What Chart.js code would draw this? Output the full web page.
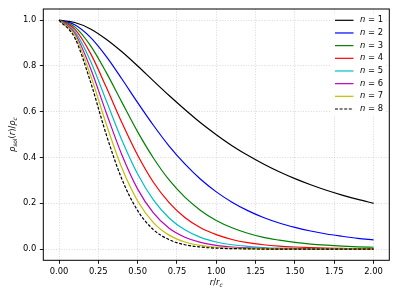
<!DOCTYPE html>
<html>
<head>
<meta charset="utf-8">
<script src="https://cdn.jsdelivr.net/npm/chart.js@4.4.1/dist/chart.umd.min.js"></script>
<style>
  html, body { margin: 0; padding: 0; background: #fff; }
  #chartCanvas { display: block; }
</style>
</head>
<body>
<canvas id="chartCanvas" width="399" height="299"></canvas>
<script>
// r / r_c sample positions
const rValues = [0.0, 0.1, 0.2, 0.3, 0.4, 0.5, 0.6, 0.7, 0.8, 0.9, 1.0,
                 1.1, 1.2, 1.3, 1.4, 1.5, 1.6, 1.7, 1.8, 1.9, 2.0];

// rho_sol(r)/rho_c, one array per n
const n1 = [1.000, 0.990, 0.962, 0.917, 0.862, 0.800, 0.735, 0.671, 0.610, 0.552, 0.500,
            0.452, 0.410, 0.372, 0.338, 0.308, 0.281, 0.257, 0.236, 0.217, 0.200];
const n2 = [1.000, 0.980, 0.925, 0.842, 0.743, 0.640, 0.541, 0.450, 0.372, 0.305, 0.250,
            0.205, 0.168, 0.138, 0.114, 0.095, 0.079, 0.066, 0.056, 0.047, 0.040];
const n3 = [1.000, 0.971, 0.889, 0.772, 0.641, 0.512, 0.398, 0.302, 0.227, 0.169, 0.125,
            0.093, 0.069, 0.051, 0.039, 0.029, 0.022, 0.017, 0.013, 0.010, 0.008];
const n4 = [1.000, 0.961, 0.855, 0.708, 0.552, 0.410, 0.292, 0.203, 0.138, 0.093, 0.063,
            0.042, 0.028, 0.019, 0.013, 0.009, 0.006, 0.004, 0.003, 0.002, 0.002];
const n5 = [1.000, 0.951, 0.822, 0.649, 0.476, 0.328, 0.215, 0.136, 0.084, 0.051, 0.031,
            0.019, 0.012, 0.007, 0.004, 0.003, 0.002, 0.001, 0.001, 0.000, 0.000];
const n6 = [1.000, 0.943, 0.790, 0.596, 0.411, 0.262, 0.158, 0.091, 0.052, 0.029, 0.016,
            0.009, 0.005, 0.003, 0.001, 0.001, 0.000, 0.000, 0.000, 0.000, 0.000];
const n7 = [1.000, 0.934, 0.760, 0.547, 0.354, 0.210, 0.116, 0.061, 0.031, 0.016, 0.008,
            0.004, 0.002, 0.001, 0.000, 0.000, 0.000, 0.000, 0.000, 0.000, 0.000];
const n8 = [1.000, 0.923, 0.731, 0.501, 0.305, 0.168, 0.085, 0.041, 0.019, 0.009, 0.004,
            0.002, 0.001, 0.000, 0.000, 0.000, 0.000, 0.000, 0.000, 0.000, 0.000];

const seriesValues = [n1, n2, n3, n4, n5, n6, n7, n8];
const seriesLabels = ['1', '2', '3', '4', '5', '6', '7', '8'];
const seriesColors = ['#000000', '#0000ff', '#008000', '#ff0000', '#00bfbf', '#bf00bf', '#bfbf00', '#000000'];

// tick labels
const xTicks = [0.0, 0.25, 0.5, 0.75, 1.0, 1.25, 1.5, 1.75, 2.0];
const yTicks = [0.0, 0.2, 0.4, 0.6, 0.8, 1.0];

const FONT = 'DejaVu Sans';
const TICK_SIZE = 8.4;

// draw a run of text pieces (italic / subscript) centered on 0,0
function drawMath(ctx, pieces, size) {
    const parts = pieces.map(p => {
        const s = p.sub ? size * 0.7 : size;
        const font = (p.it ? 'italic ' : '') + s + 'px "' + FONT + '"';
        ctx.font = font;
        return { t: p.t, font, w: ctx.measureText(p.t).width, dy: p.sub ? size * 0.28 : 0 };
    });
    const total = parts.reduce((a, p) => a + p.w, 0);
    let x = -total / 2;
    ctx.textBaseline = 'middle';
    ctx.textAlign = 'left';
    parts.forEach(p => {
        ctx.font = p.font;
        ctx.fillText(p.t, x, p.dy);
        x += p.w;
    });
}

const extras = {
    id: 'extras',
    afterDatasetsDraw(chart) {
        const ctx = chart.ctx;
        ctx.save();
        // legend box (upper right, inside the axes)
        ctx.fillStyle = 'rgba(255,255,255,0.9)';
        ctx.fillRect(331, 13, 55, 103);
        const rowY0 = 20.3, rowStep = 12.67;
        seriesLabels.forEach((lab, i) => {
            const y = rowY0 + i * rowStep;
            ctx.beginPath();
            ctx.strokeStyle = seriesColors[i];
            ctx.lineWidth = 1.2;
            ctx.setLineDash(i === 7 ? [3, 1.6] : []);
            ctx.moveTo(335, y);
            ctx.lineTo(353.5, y);
            ctx.stroke();
            ctx.setLineDash([]);
            ctx.fillStyle = '#000';
            ctx.textBaseline = 'middle';
            ctx.textAlign = 'left';
            ctx.font = 'italic ' + TICK_SIZE + 'px "' + FONT + '"';
            ctx.fillText('n', 360, y);
            const w = ctx.measureText('n').width;
            ctx.font = TICK_SIZE + 'px "' + FONT + '"';
            ctx.fillText(' = ' + lab, 360 + w, y);
        });
        ctx.restore();
    },
    afterDraw(chart) {
        const ctx = chart.ctx;
        const a = chart.chartArea;
        ctx.save();
        // axes frame
        ctx.strokeStyle = '#000';
        ctx.lineWidth = 1;
        ctx.strokeRect(a.left, a.top, a.right - a.left, a.bottom - a.top);
        ctx.fillStyle = '#000';
        // x title
        ctx.save();
        ctx.translate((a.left + a.right) / 2, 283);
        drawMath(ctx, [{ t: 'r', it: true }, { t: '/' }, { t: 'r', it: true }, { t: 'c', it: true, sub: true }], TICK_SIZE);
        ctx.restore();
        // y title
        ctx.save();
        ctx.translate(13.3, (a.top + a.bottom) / 2);
        ctx.rotate(-Math.PI / 2);
        drawMath(ctx, [
            { t: 'ρ', it: true }, { t: 'sol', it: true, sub: true },
            { t: '(' }, { t: 'r', it: true }, { t: ')/' },
            { t: 'ρ', it: true }, { t: 'c', it: true, sub: true }
        ], TICK_SIZE);
        ctx.restore();
        ctx.restore();
    }
};

const gridCommon = {
    color: 'rgba(190,190,190,0.75)',
    lineWidth: 0.8,
    drawTicks: true,
    tickLength: 3.5,
    tickColor: '#000',
    tickWidth: 0.9,
    tickBorderDash: []
};

const chart = new Chart(document.getElementById('chartCanvas'), {
    type: 'line',
    data: {
        datasets: seriesValues.map((vals, i) => ({
            label: 'n = ' + seriesLabels[i],
            data: rValues.map((r, j) => ({ x: r, y: vals[j] })),
            borderColor: seriesColors[i],
            borderWidth: 1.2,
            borderDash: i === 7 ? [3, 1.6] : [],
            pointRadius: 0,
            fill: false,
            cubicInterpolationMode: 'monotone',
            order: 8 - i
        }))
    },
    options: {
        responsive: false,
        animation: false,
        devicePixelRatio: 1,
        layout: { padding: { top: 9, right: 9.7, left: 0, bottom: 0 } },
        plugins: { legend: { display: false }, tooltip: { enabled: false } },
        scales: {
            x: {
                type: 'linear',
                min: -0.1,
                max: 2.1,
                afterBuildTicks: s => { s.ticks = xTicks.map(v => ({ value: v })); },
                afterFit: s => { s.height = 38.7; },
                ticks: {
                    callback: v => Number(v).toFixed(2),
                    color: '#000',
                    font: { family: FONT, size: TICK_SIZE },
                    padding: 2.5,
                    maxRotation: 0,
                    autoSkip: false
                },
                grid: gridCommon,
                border: { display: false, dash: [1, 1.6] }
            },
            y: {
                type: 'linear',
                min: -0.049,
                max: 1.049,
                afterBuildTicks: s => { s.ticks = yTicks.map(v => ({ value: v })); },
                afterFit: s => { s.width = 43.3; },
                ticks: {
                    callback: v => Number(v).toFixed(1),
                    color: '#000',
                    font: { family: FONT, size: TICK_SIZE },
                    padding: 3.5,
                    autoSkip: false
                },
                grid: gridCommon,
                border: { display: false, dash: [1, 1.6] }
            }
        }
    },
    plugins: [extras]
});
</script>
</body>
</html>
